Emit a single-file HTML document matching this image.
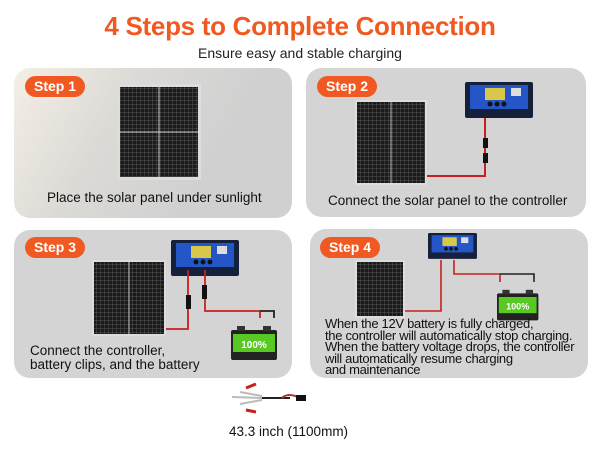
<!DOCTYPE html>
<html><head><meta charset="utf-8"><style>
body{margin:0;width:600px;height:450px;background:#fff;position:relative;overflow:hidden;font-family:"Liberation Sans",sans-serif}
.t{position:absolute;white-space:nowrap}
.box{position:absolute;background:#d4d4d4;border-radius:16px}
.step{position:absolute;background:#f05a22;color:#fff;font-weight:bold;font-size:14px;border-radius:11px;height:21px;line-height:21px;width:60px;text-align:center}
.cap{position:absolute;font-size:13.5px;color:#111;white-space:nowrap}
</style></head><body>
<div class="t" style="left:0;width:600px;text-align:center;top:11px;font-size:26px;font-weight:bold;color:#f05a22;letter-spacing:-.3px">4 Steps to Complete Connection</div>
<div class="t" style="left:0;width:600px;text-align:center;top:45px;font-size:14px;color:#222">Ensure easy and stable charging</div>

<div class="box" style="left:14px;top:68px;width:278px;height:150px;background:linear-gradient(120deg,#f4efe6 0%,#dcdad6 35%,#d0d0d0 70%)"></div>
<div class="box" style="left:306px;top:68px;width:280px;height:149px"></div>
<div class="box" style="left:14px;top:230px;width:278px;height:148px"></div>
<div class="box" style="left:310px;top:229px;width:278px;height:149px"></div>

<div class="step" style="left:25px;top:76px">Step 1</div>
<div class="step" style="left:317px;top:76px">Step 2</div>
<div class="step" style="left:25px;top:237px">Step 3</div>
<div class="step" style="left:320px;top:237px">Step 4</div>

<svg width="600" height="450" style="position:absolute;left:0;top:0">
<defs>
<pattern id="g" width="4" height="4" patternUnits="userSpaceOnUse"><rect width="4" height="4" fill="#1a1a1a"/><path d="M0 .5H4M.5 0V4" stroke="#555" stroke-width=".5"/></pattern>
<g id="ctl"><rect x="0" y="0" width="68" height="36" rx="2" fill="#15203a"/><rect x="5" y="3" width="58" height="24" fill="#2456c8"/><rect x="20" y="6" width="20" height="12" fill="#d8c84a"/><circle cx="25" cy="22" r="2.5" fill="#111"/><circle cx="32" cy="22" r="2.5" fill="#111"/><circle cx="39" cy="22" r="2.5" fill="#111"/><rect x="46" y="6" width="10" height="8" fill="#ddd"/></g>
<g id="bat"><rect x="0" y="6" width="46" height="30" rx="2" fill="#222"/><rect x="2" y="10" width="42" height="18" fill="#58c823"/><text x="23" y="24" font-size="10" font-weight="bold" fill="#fff" text-anchor="middle" font-family="Liberation Sans">100%</text><rect x="6" y="2" width="8" height="5" fill="#333"/><rect x="32" y="2" width="8" height="5" fill="#333"/></g>
</defs>
<rect x="117" y="84" width="84" height="96" fill="#ddd"/><rect x="120" y="87" width="78" height="90" fill="url(#g)"/><path d="M159 87V177M120 132H198" stroke="#ccc" stroke-width="1"/>
<rect x="355" y="100" width="72" height="85" fill="#ddd"/><rect x="357" y="102" width="68" height="81" fill="url(#g)"/><path d="M391 102V183" stroke="#bbb"/>
<use href="#ctl" x="465" y="82"/>
<path d="M427 176H485V118" stroke="#c8201e" stroke-width="2" fill="none"/><rect x="483" y="138" width="5" height="10" fill="#111"/><rect x="483" y="153" width="5" height="10" fill="#111"/>
<rect x="92" y="260" width="74" height="76" fill="#ddd"/><rect x="94" y="262" width="70" height="72" fill="url(#g)"/><path d="M129 262V334" stroke="#bbb"/>
<use href="#ctl" x="171" y="240"/>
<path d="M166 329H188V270M205 270V311H260V318" stroke="#c8201e" stroke-width="1.8" fill="none"/>
<path d="M260 311H274V318" stroke="#222" stroke-width="1.8" fill="none"/>
<rect x="186" y="295" width="5" height="14" fill="#111"/><rect x="202" y="285" width="5" height="14" fill="#111"/>
<use href="#bat" x="231" y="324"/>
<rect x="355" y="260" width="50" height="58" fill="#ddd"/><rect x="357" y="262" width="46" height="54" fill="url(#g)"/>
<use href="#ctl" x="428" y="233" transform="translate(428 233) scale(.72) translate(-428 -233)"/>
<path d="M405 311H441V260M454 260V274H500V282" stroke="#c8201e" stroke-width="1.6" fill="none"/>
<path d="M500 274H534V282" stroke="#222" stroke-width="1.6" fill="none"/>
<use href="#bat" x="497" y="288" transform="translate(497 288) scale(.9) translate(-497 -288)"/>
<path d="M232 397L262 398M240 392L262 396M240 404L262 400" stroke="#bbb" stroke-width="2"/>
<path d="M246 388L256 384M246 410L256 412" stroke="#c8201e" stroke-width="3"/>
<path d="M262 398H290" stroke="#222" stroke-width="2"/><path d="M282 398Q288 392 300 398" stroke="#a33" stroke-width="2" fill="none"/><rect x="296" y="395" width="10" height="6" fill="#111"/>
</svg>

<div class="cap" style="left:47px;top:190px">Place the solar panel under sunlight</div>
<div class="cap" style="left:328px;top:193px">Connect the solar panel to the controller</div>
<div class="cap" style="left:30px;top:344px;line-height:14px">Connect the controller,<br>battery clips, and the battery</div>
<div class="cap" style="left:325px;top:318px;line-height:11.5px;font-size:13px;letter-spacing:-.3px">When the 12V battery is fully charged,<br>the controller will automatically stop charging.<br>When the battery voltage drops, the controller<br>will automatically resume charging<br>and maintenance</div>
<div class="t" style="left:229px;top:424px;font-size:13.5px;color:#111">43.3 inch (1100mm)</div>
</body></html>
